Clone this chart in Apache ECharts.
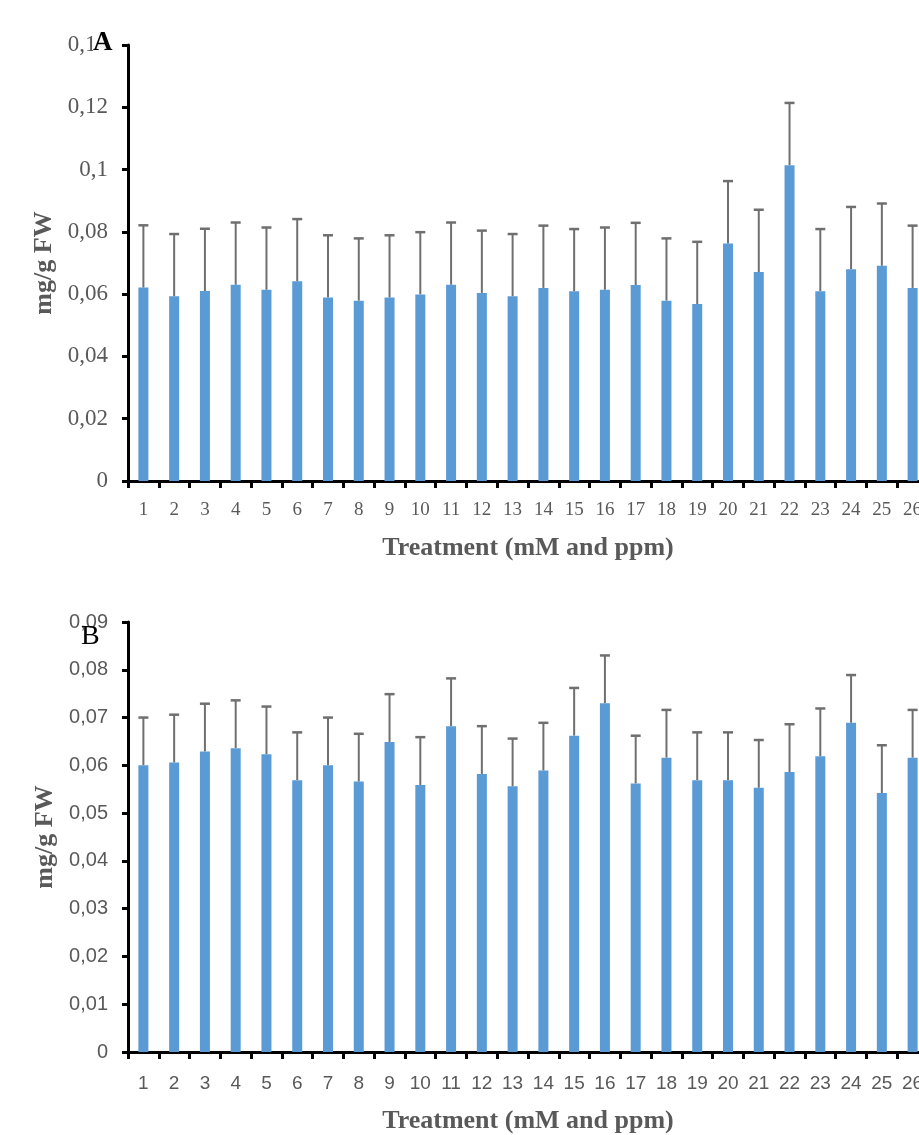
<!DOCTYPE html>
<html>
<head>
<meta charset="utf-8">
<script src="https://cdn.jsdelivr.net/npm/echarts@6/dist/echarts.min.js"></script>
<style>
  html, body { margin: 0; padding: 0; background: #fff; overflow: hidden; }
  #chart { width: 960px; height: 1135px; }
</style>
</head>
<body>
<div id="chart"></div>
<script>
// treatments 1..26
const treatments = ['1','2','3','4','5','6','7','8','9','10','11','12','13','14','15','16','17','18','19','20','21','22','23','24','25','26'];

// panel A (mg/g FW)
const meanA = [0.0621, 0.0593, 0.0610, 0.0630, 0.0614, 0.0641, 0.0589, 0.0579, 0.0589, 0.0599, 0.0630, 0.0604, 0.0593,
               0.0620, 0.0609, 0.0614, 0.0629, 0.0579, 0.0568, 0.0763, 0.0671, 0.1014, 0.0609, 0.0680, 0.0691, 0.0620];
const errA = [0.02, 0.02, 0.02, 0.02, 0.02, 0.02, 0.02, 0.02, 0.02, 0.02, 0.02, 0.02, 0.02,
              0.02, 0.02, 0.02, 0.02, 0.02, 0.02, 0.02, 0.02, 0.02, 0.02, 0.02, 0.02, 0.02];

// panel B (mg/g FW)
const meanB = [0.0600, 0.0606, 0.0629, 0.0636, 0.0623, 0.0569, 0.0600, 0.0566, 0.0649, 0.0559, 0.0682, 0.0582, 0.0556,
               0.0589, 0.0662, 0.0730, 0.0562, 0.0616, 0.0569, 0.0569, 0.0553, 0.0586, 0.0619, 0.0689, 0.0542, 0.0616];
const errB = [0.01, 0.01, 0.01, 0.01, 0.01, 0.01, 0.01, 0.01, 0.01, 0.01, 0.01, 0.01, 0.01,
              0.01, 0.01, 0.01, 0.01, 0.01, 0.01, 0.01, 0.01, 0.01, 0.01, 0.01, 0.01, 0.01];

const chart = echarts.init(document.getElementById('chart'));

const BAR = '#5b9bd5';
const ERR = '#6f6f6f';
const LABEL = '#595959';

// comma decimals like the original
const fmt = v => v === 0 ? '0' : String(+v.toFixed(2)).replace('.', ',');

function xAxis(idx, font, size, margin, gap) {
    return {
        type: 'category',
        gridIndex: idx,
        data: treatments,
        name: 'Treatment (mM and ppm)',
        nameLocation: 'middle',
        nameGap: gap,
        nameTextStyle: { fontFamily: 'Liberation Serif', fontWeight: 'bold', fontSize: 26, color: LABEL },
        axisLine: { lineStyle: { color: '#000', width: 3 } },
        axisTick: { show: true, length: 7, lineStyle: { color: '#000', width: 3 } },
        axisLabel: { color: LABEL, fontFamily: font, fontSize: size, margin: margin, interval: 0 }
    };
}

function yAxis(idx, max, step, font, size) {
    return {
        type: 'value',
        gridIndex: idx,
        min: 0,
        max: max,
        interval: step,
        name: 'mg/g FW',
        nameLocation: 'middle',
        nameGap: 68,
        nameTextStyle: { fontFamily: 'Liberation Serif', fontWeight: 'bold', fontSize: 26, color: LABEL },
        axisLine: { show: true, lineStyle: { color: '#000', width: 3 } },
        axisTick: { show: true, length: 6, lineStyle: { color: '#000', width: 3 } },
        axisLabel: { color: LABEL, fontFamily: font, fontSize: size, margin: 20, formatter: fmt },
        splitLine: { show: false }
    };
}

// upper error whisker + cap
function errSeries(idx, mean, err) {
    return {
        type: 'custom',
        xAxisIndex: idx,
        yAxisIndex: idx,
        data: mean.map((m, i) => [i, m, m + err[i]]),
        z: 1,
        renderItem: function (params, api) {
            const base = api.coord([api.value(0), api.value(1)]);
            const top = api.coord([api.value(0), api.value(2)]);
            const half = 5;
            return {
                type: 'group',
                children: [
                    { type: 'line', shape: { x1: base[0], y1: base[1], x2: top[0], y2: top[1] },
                      style: { stroke: ERR, lineWidth: 2 } },
                    { type: 'line', shape: { x1: top[0] - half, y1: top[1], x2: top[0] + half, y2: top[1] },
                      style: { stroke: ERR, lineWidth: 2.5 } }
                ]
            };
        }
    };
}

const option = {
    animation: false,
    backgroundColor: '#fff',
    grid: [
        { left: 128, top: 45, width: 800, height: 436 },
        { left: 128, top: 622, width: 800, height: 431.5 }
    ],
    xAxis: [
        xAxis(0, 'Liberation Serif', 19, 20, 54),
        xAxis(1, 'Liberation Sans', 19, 22, 56)
    ],
    yAxis: [
        yAxis(0, 0.14, 0.02, 'Liberation Serif', 23),
        yAxis(1, 0.09, 0.01, 'Liberation Sans', 20)
    ],
    series: [
        errSeries(0, meanA, errA),
        { type: 'bar', xAxisIndex: 0, yAxisIndex: 0, data: meanA, barWidth: 10, z: 2,
          itemStyle: { color: BAR } },
        errSeries(1, meanB, errB),
        { type: 'bar', xAxisIndex: 1, yAxisIndex: 1, data: meanB, barWidth: 10, z: 2,
          itemStyle: { color: BAR } }
    ],
    graphic: [
        { type: 'text', left: 93, top: 30, z: 100,
          style: { text: 'A', fontFamily: 'Liberation Serif', fontWeight: 'bold', fontSize: 27, fill: '#000',
                   backgroundColor: 'rgba(255,255,255,0.9)' } },
        { type: 'text', left: 81, top: 623, z: 100,
          style: { text: 'B', fontFamily: 'Liberation Serif', fontSize: 28, fill: '#000' } }
    ]
};

chart.setOption(option);
</script>
</body>
</html>
